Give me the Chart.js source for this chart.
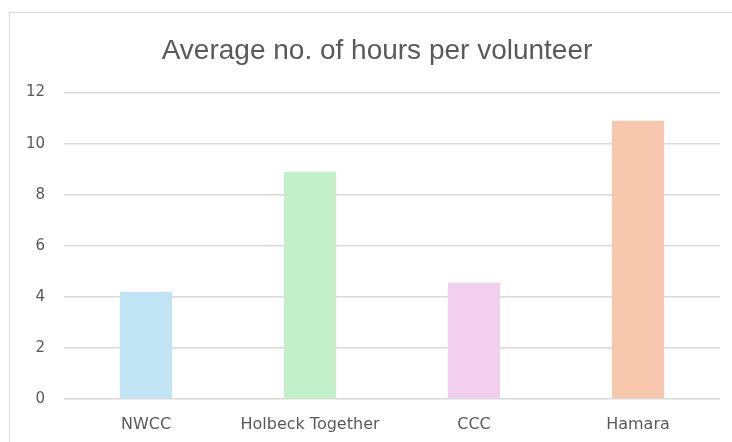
<!DOCTYPE html>
<html>
<head>
<meta charset="utf-8">
<script src="https://cdn.jsdelivr.net/npm/chart.js@4"></script>
<style>
  html, body { margin: 0; padding: 0; background: #fff; }
  #wrap { width: 732px; height: 442px; }
</style>
</head>
<body>
<div id="wrap"><canvas id="chart" width="732" height="442"></canvas></div>
<script>
// ── Data ──────────────────────────────
const categories = ['NWCC', 'Holbeck Together', 'CCC', 'Hamara'];
const avgHours   = [4.2, 8.9, 4.55, 10.9];
const barColors  = ['#c1e4f5', '#c2f0c8', '#f2ceef', '#f6c6ad'];
const yTicks     = [0, 2, 4, 6, 8, 10, 12];

const textColor = '#595959';

// light frame round the chart, like the office chart area
const framePlugin = {
  id: 'frame',
  afterLayout(chart) {
    // title sits a bit right of the plot centre in the original
    if (chart.titleBlock) chart.titleBlock.left += 24;
  },
  beforeDraw(chart) {
    const ctx = chart.ctx;
    ctx.save();
    ctx.strokeStyle = '#d9d9d9';
    ctx.lineWidth = 1;
    ctx.strokeRect(9.5, 12.5, 760, 460);
    ctx.restore();
  }
};

new Chart(document.getElementById('chart'), {
  type: 'bar',
  data: {
    labels: categories,
    datasets: [{
      data: avgHours,
      backgroundColor: barColors,
      borderWidth: 0,
      categoryPercentage: 1,
      barPercentage: 0.317
    }]
  },
  options: {
    responsive: false,
    animation: false,
    layout: { padding: { left: 10, right: 12, top: 12, bottom: 0 } },
    plugins: {
      legend: { display: false },
      tooltip: { enabled: false },
      title: {
        display: true,
        text: 'Average no. of hours per volunteer',
        color: textColor,
        font: { family: 'Liberation Sans', size: 28, weight: 'normal' },
        padding: { top: 22, bottom: 25 }
      }
    },
    scales: {
      x: {
        afterFit: s => { s.height = 43; },
        grid: { display: false, drawTicks: false },
        border: { display: false },
        ticks: {
          color: textColor,
          padding: 16,
          font: { family: 'DejaVu Sans', size: 16 }
        }
      },
      y: {
        min: 0, max: 12,
        afterFit: s => { s.width = 54; },
        afterBuildTicks: s => { s.ticks = yTicks.map(v => ({ value: v })); },
        grid: { color: '#d9d9d9', lineWidth: 1.5, drawTicks: false },
        border: { display: false },
        ticks: {
          color: textColor,
          padding: 19,
          font: { family: 'DejaVu Sans', size: 15 }
        }
      }
    }
  },
  plugins: [framePlugin]
});
</script>
</body>
</html>
